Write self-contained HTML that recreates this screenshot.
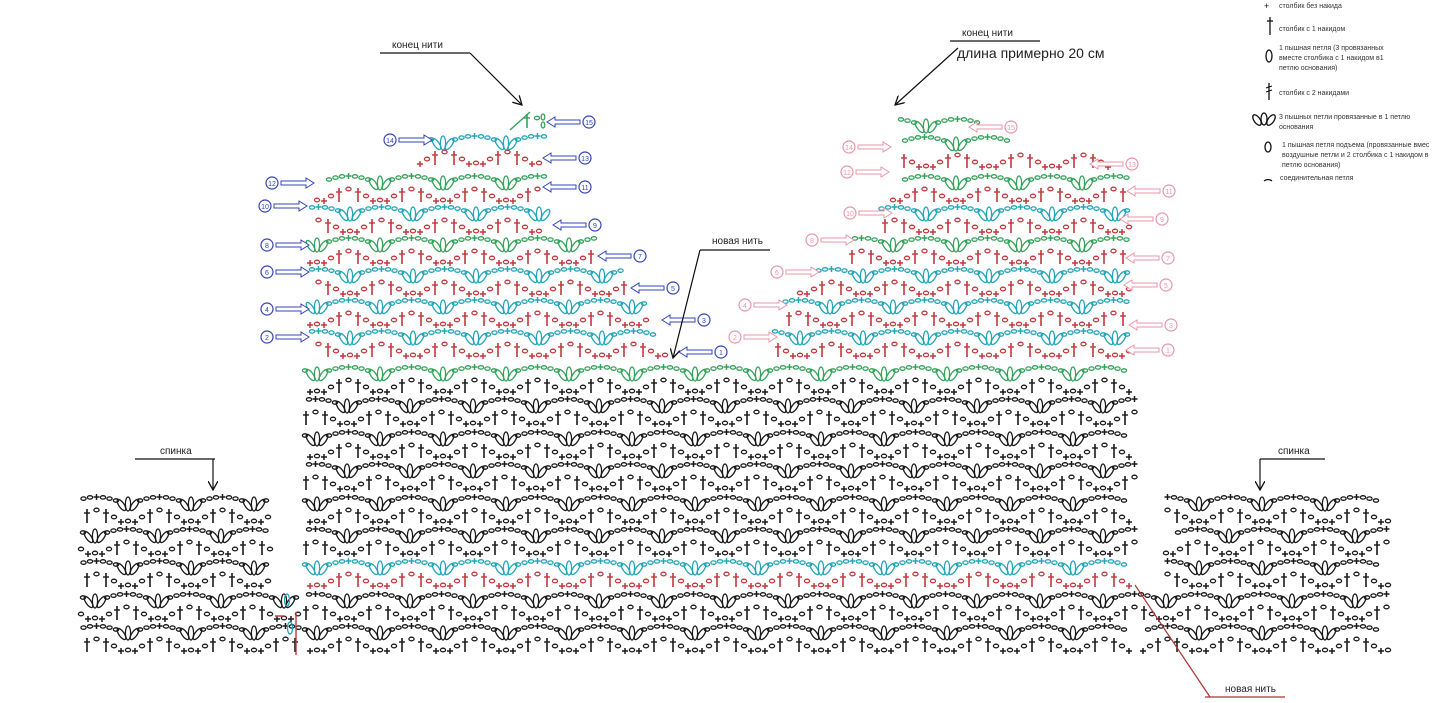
<!DOCTYPE html>
<html><head><meta charset="utf-8">
<style>
html,body{margin:0;padding:0;background:#fff;width:1443px;height:703px;overflow:hidden}
svg{position:absolute;left:0;top:0}
text{font-family:"Liberation Sans",sans-serif}
.lg{font-size:7px;fill:#333}
</style></head><body>
<svg id="s" width="1443" height="703" viewBox="0 0 1443 703" xmlns="http://www.w3.org/2000/svg">
<defs>
<marker id="ah" markerWidth="10" markerHeight="10" refX="9" refY="5" orient="auto" markerUnits="userSpaceOnUse">
<path d="M0,0 L9,5 L0,10" fill="none" stroke="#111" stroke-width="1.3"/></marker>
</defs>
<g id="g"></g>
<text x="392" y="48" font-size="10" fill="#222">конец нити</text>
<line x1="380" y1="53" x2="470" y2="53" stroke="#111" stroke-width="1.2"/>
<line x1="470" y1="53" x2="522" y2="105" stroke="#111" stroke-width="1.2" marker-end="url(#ah)"/>
<text x="962" y="36" font-size="10" fill="#222">конец нити</text>
<line x1="950" y1="41" x2="1040" y2="41" stroke="#111" stroke-width="1.2"/>
<text x="957" y="58" font-size="14" fill="#222">длина примерно 20 см</text>
<line x1="958" y1="48" x2="895" y2="105" stroke="#111" stroke-width="1.2" marker-end="url(#ah)"/>
<text x="712" y="244" font-size="10" fill="#222">новая нить</text>
<line x1="700" y1="250" x2="770" y2="250" stroke="#111" stroke-width="1.2"/>
<line x1="700" y1="250" x2="673" y2="358" stroke="#111" stroke-width="1.2" marker-end="url(#ah)"/>
<text x="160" y="454" font-size="10" fill="#222">спинка</text>
<line x1="135" y1="459" x2="215" y2="459" stroke="#111" stroke-width="1.2"/>
<line x1="213" y1="459" x2="213" y2="490" stroke="#111" stroke-width="1.2" marker-end="url(#ah)"/>
<text x="1278" y="454" font-size="10" fill="#222">спинка</text>
<line x1="1260" y1="459" x2="1325" y2="459" stroke="#111" stroke-width="1.2"/>
<line x1="1260" y1="459" x2="1260" y2="490" stroke="#111" stroke-width="1.2" marker-end="url(#ah)"/>
<text x="1225" y="692" font-size="10" fill="#222">новая нить</text>
<line x1="1205" y1="697" x2="1285" y2="697" stroke="#b03030" stroke-width="1.2"/>
<line x1="1210" y1="697" x2="1135" y2="585" stroke="#b03030" stroke-width="1.2"/>
<text x="1264" y="9" font-size="9" fill="#111">+</text><text x="1279" y="8" class="lg">столбик без накида</text>
<line x1="1270" y1="17" x2="1270" y2="35" stroke="#111" stroke-width="1.3"/><line x1="1267" y1="21" x2="1273" y2="21" stroke="#111" stroke-width="1.3"/>
<text x="1279" y="31" class="lg">столбик с 1 накидом</text>
<ellipse cx="1269" cy="56" rx="3" ry="6" fill="none" stroke="#111" stroke-width="1.3"/>
<text x="1279" y="50" class="lg">1 пышная петля (3 провязанных</text>
<text x="1279" y="60" class="lg">вместе столбика с 1 накидом в1</text>
<text x="1279" y="70" class="lg">петлю основания)</text>
<line x1="1269" y1="83" x2="1269" y2="100" stroke="#111" stroke-width="1.3"/><line x1="1266" y1="88" x2="1272" y2="86" stroke="#111"/><line x1="1266" y1="92" x2="1272" y2="90" stroke="#111"/>
<text x="1279" y="95" class="lg">столбик с 2 накидами</text>
<ellipse cx="1257" cy="120" rx="3" ry="6" fill="none" stroke="#111" stroke-width="1.3" transform="rotate(-35 1257 120)"/>
<ellipse cx="1264" cy="119" rx="3" ry="6" fill="none" stroke="#111" stroke-width="1.3"/>
<ellipse cx="1271" cy="120" rx="3" ry="6" fill="none" stroke="#111" stroke-width="1.3" transform="rotate(35 1271 120)"/>
<text x="1279" y="119" class="lg">3 пышных петли провязанные в 1 петлю</text>
<text x="1279" y="129" class="lg">основания</text>
<ellipse cx="1268" cy="147" rx="3" ry="5" fill="none" stroke="#111" stroke-width="1.3"/>
<text x="1282" y="147" class="lg">1 пышная петля подъема (провязанные вмес</text>
<text x="1282" y="157" class="lg">воздушные петли и 2 столбика с 1 накидом в</text>
<text x="1282" y="167" class="lg">петлю основания)</text>
<path d="M1264,181 Q1268,178 1272,181" fill="none" stroke="#111" stroke-width="1.3"/>
<text x="1280" y="180" class="lg">соединительная петля</text>
</svg>
<script>
var h='';var P=63;
function E(x,y,rx,ry,c,r){h+='<ellipse cx="'+x.toFixed(1)+'" cy="'+y.toFixed(1)+'" rx="'+rx+'" ry="'+ry+'" fill="none" stroke="'+c+'" stroke-width="1.3"'+(r?' transform="rotate('+r+' '+x.toFixed(1)+' '+y.toFixed(1)+')"':'')+'/>';}
function L(a,b,c2,d,c,w){h+='<line x1="'+a.toFixed(1)+'" y1="'+b.toFixed(1)+'" x2="'+c2.toFixed(1)+'" y2="'+d.toFixed(1)+'" stroke="'+c+'" stroke-width="'+(w||1.5)+'"/>';}
function plus(x,y,c){L(x-3,y,x+3,y,c);L(x,y-3,x,y+3,c);}
function dag(x,y,c){L(x,y-7,x,y+7,c,1.6);L(x-3,y-3,x+3,y-3,c,1.4);}
function fan(x0,x1,y,c,ph){var k=Math.floor((x0-ph)/P)-1;for(;;k++){var cx=ph+k*P;if(cx-P>x1)break;
 if(cx>=x0+4&&cx<=x1-4){E(cx,y+1,2.6,7,c);E(cx-6.5,y+2,2.6,6.5,c,-35);E(cx+6.5,y+2,2.6,6.5,c,35);}
 for(var d=12;d<=P-12;d+=6.5){var x=cx+d;if(x<x0||x>x1)continue;var yy=y+2-8*Math.sin(Math.PI*d/P);
  if(Math.abs(d-P/2)<3)plus(x,yy,c);else E(x,yy,2.6,1.7,c);}}}
function st(x0,x1,y,c,ph){var k=Math.floor((x0-ph)/P)-1;for(;;k++){var cx=ph+k*P;if(cx-P>x1)break;
 var it=[[0,'o',5],[7,'p',6],[14,'o',1],[22,'d',0],[31.5,'o',-6],[41,'d',0],[49,'o',1],[56,'p',6]];
 for(var i=0;i<it.length;i++){var x=cx+it[i][0];if(x<x0||x>x1)continue;var t=it[i][1];
  if(t=='o')E(x,y+it[i][2],2.6,1.8,c);else if(t=='p')plus(x,y+it[i][2],c);else dag(x,y,c);}}}
var K='#1a1a1a',R='#c0383c',C='#22a6b8',G='#35a35a';
function pair(x0,x1,yf,ys,cf,cs,ph){fan(x0,x1,yf,cf,ph);st(x0,x1,ys,cs,ph);}
var mf=[373,405,438,470,503,535,567,600,632];
for(var i=0;i<mf.length;i++){var ph=(i%2==0)?380:347;var cf=K,cs=K;if(i==0)cf=G;if(i==6){cf=C;cs=R;}
 pair(305,1135,mf[i],mf[i]+13,cf,cs,ph);
 if(i>=4&&i<=6){pair(80,270,mf[i],mf[i]+13,K,K,ph);pair(1165,1390,mf[i],mf[i]+13,K,K,ph);}
 if(i>=7){pair(80,300,mf[i],mf[i]+13,K,K,ph);pair(1140,1390,mf[i],mf[i]+13,K,K,ph);}
}
var UL=[[337,350,310,665,C],[306,319,310,650,C],[275,288,310,625,C],[244,257,310,595,G],[213,226,310,545,C],[182,195,315,545,G]];
for(var i=0;i<UL.length;i++){var u=UL[i];pair(u[2],u[3],u[0],u[1],u[4],R,(i%2==0)?350:380);}
st(420,545,158,R,350);fan(430,545,142,C,380);
L(510,130,530,112,G,1.4);dag(527,121,G);E(537,118,2.6,1.7,G);E(543,117,1.8,3,G);E(543,125,1.8,3,G);
var UR=[[337,350,770,1130,C],[306,319,785,1130,C],[275,288,800,1130,C],[244,257,845,1130,G],[213,226,880,1130,C],[182,195,890,1130,G]];
for(var i=0;i<UR.length;i++){var u=UR[i];pair(u[2],u[3],u[0],u[1],u[4],R,(i%2==0)?800:830);}
st(895,1110,161,R,800);fan(895,1020,143,G,830);fan(895,990,125,G,800);
function lab(x,y,n,col,dir){h+='<circle cx="'+x+'" cy="'+y+'" r="6" fill="#fff" stroke="'+col+'" stroke-width="1.2"/><text x="'+x+'" y="'+(y+3)+'" font-size="7" text-anchor="middle" fill="'+col+'" font-family="Liberation Sans">'+n+'</text>';
 var a,b;if(dir>0){a=x+9;b=x+42;h+='<path d="M'+a+','+(y-2)+' L'+(b-8)+','+(y-2)+' L'+(b-8)+','+(y-5)+' L'+b+','+y+' L'+(b-8)+','+(y+5)+' L'+(b-8)+','+(y+2)+' L'+a+','+(y+2)+' Z" fill="#fff" stroke="'+col+'" stroke-width="1"/>';}
 else{a=x-9;b=x-42;h+='<path d="M'+a+','+(y-2)+' L'+(b+8)+','+(y-2)+' L'+(b+8)+','+(y-5)+' L'+b+','+y+' L'+(b+8)+','+(y+5)+' L'+(b+8)+','+(y+2)+' L'+a+','+(y+2)+' Z" fill="#fff" stroke="'+col+'" stroke-width="1"/>';}}
var B='#3344bb',Pk='#e896a8';
[[267,337,2],[267,309,4],[267,272,6],[267,245,8],[265,206,10],[272,183,12],[390,140,14]].forEach(function(a){lab(a[0],a[1],a[2],B,1);});
[[721,352,1],[704,320,3],[673,288,5],[640,256,7],[595,225,9],[585,187,11],[585,158,13],[589,122,15]].forEach(function(a){lab(a[0],a[1],a[2],B,-1);});
[[735,337,2],[745,305,4],[777,272,6],[812,240,8],[850,213,10],[847,172,12],[849,147,14]].forEach(function(a){lab(a[0],a[1],a[2],Pk,1);});
[[1168,350,1],[1171,325,3],[1166,285,5],[1168,258,7],[1162,219,9],[1169,191,11],[1132,164,13],[1011,127,15]].forEach(function(a){lab(a[0],a[1],a[2],Pk,-1);});
E(287,600,2.5,6,C);E(290,628,2.5,6,C);L(296,612,296,655,R,1.4);L(275,616,285,616,R,1.4);
document.getElementById('g').innerHTML=h;
</script>
</body></html>
